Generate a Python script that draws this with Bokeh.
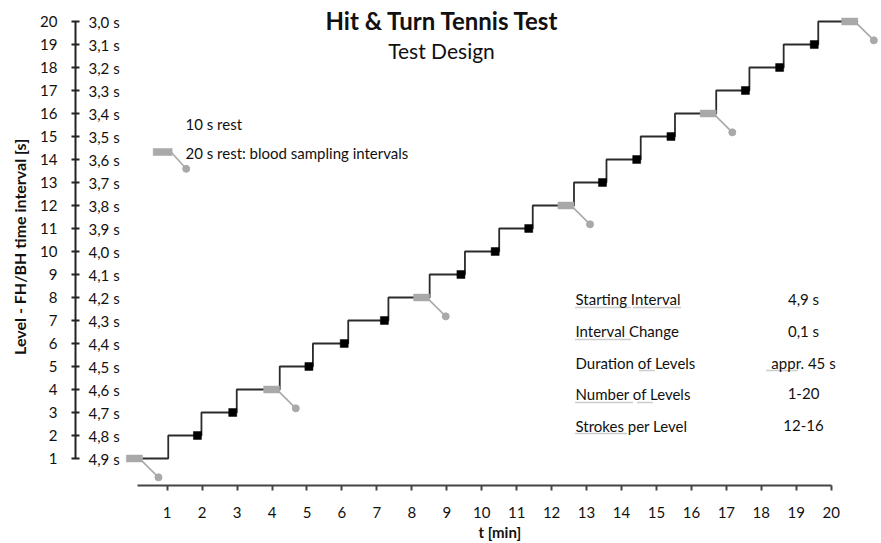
import math
from bokeh.plotting import figure
from bokeh.models import Range1d, FixedTicker, Label, Title
from bokeh.embed import file_html
from bokeh.resources import INLINE
from bokeh.core.properties import value

# ---------------- data ----------------
levels = list(range(1, 21))
interval_labels = ["4,9 s", "4,8 s", "4,7 s", "4,6 s", "4,5 s", "4,4 s", "4,3 s",
                   "4,2 s", "4,1 s", "4,0 s", "3,9 s", "3,8 s", "3,7 s", "3,6 s",
                   "3,5 s", "3,4 s", "3,3 s", "3,2 s", "3,1 s", "3,0 s"]
x_ticks = list(range(1, 21))
test_start_min = 0.29
level_end_min = [1.03, 1.98, 2.99, 4.22, 5.17, 6.18, 7.33, 8.51, 9.52, 10.50,
                 11.46, 12.64, 13.57, 14.55, 15.53, 16.71, 17.66, 18.64, 19.63, 20.76]
blood_levels = [1, 4, 8, 12, 16, 20]
blood_rest_end_min = [0.29, 4.22, 8.51, 12.64, 16.71, 20.76]
table_names = ["Starting Interval", "Interval Change", "Duration of Levels",
               "Number of Levels", "Strokes per Level"]
table_values = ["4,9 s", "0,1 s", "appr. 45 s", "1-20", "12-16"]

# ---------------- layout ----------------
W, H = 881, 543
FL, FR, FT, FB = 75, 881, 0, 485          # frame edges in page pixels
X_START = 1 + (FL - 166.7) / 34.947
X_END = 1 + (FR - 166.7) / 34.947
Y_START = 1 + (458 - FB) / 23.0
Y_END = 1 + (458 - FT) / 23.0
FONT = "Lato"
TXT = "#111111"
GRAY = "#a9a9a9"


def dx(px):  # page px -> data x
    return X_START + (px - FL) / (FR - FL) * (X_END - X_START)


def dy(py):  # page px -> data y
    return Y_START + (FB - py) / (FB - FT) * (Y_END - Y_START)


p = figure(width=W, height=H, output_backend="svg", toolbar_location=None,
           x_range=Range1d(X_START, X_END), y_range=Range1d(Y_START, Y_END),
           min_border_left=FL, min_border_right=W - FR, min_border_top=FT,
           min_border_bottom=H - FB)
p.outline_line_color = None
p.grid.grid_line_color = None
p.background_fill_color = "white"
p.border_fill_color = "white"

# x axis
xa = p.xaxis[0]
xa.ticker = FixedTicker(ticks=x_ticks)
xa.bounds = (0.15, 20)
xa.axis_line_width = 2
xa.axis_line_color = "#444444"
xa.major_tick_in = 0
xa.major_tick_out = 5
xa.major_tick_line_width = 2
xa.major_tick_line_color = "#444444"
xa.minor_tick_line_color = None
xa.major_label_standoff = 16
xa.major_label_text_font = FONT
xa.major_label_text_font_size = "15px"
xa.major_label_text_color = TXT

p.add_layout(Title(text="t [min]", align="left", offset=403, standoff=0,
                   text_font=FONT, text_font_size="15px", text_font_style="bold",
                   text_color=TXT), "below")

# y axis
ya = p.yaxis[0]
ya.ticker = FixedTicker(ticks=levels)
ya.bounds = (1, 20)
ya.axis_line_width = 2
ya.axis_line_color = "#222222"
ya.major_tick_in = 4
ya.major_tick_out = 4
ya.major_tick_line_width = 2
ya.major_tick_line_color = "#222222"
ya.minor_tick_line_color = None
ya.major_label_standoff = 14
ya.major_label_text_font = FONT
ya.major_label_text_font_size = "15px"
ya.major_label_text_color = TXT
ya.axis_label = "Level  -  FH/BH time interval [s]"
ya.axis_label_text_font = FONT
ya.axis_label_text_font_size = "16px"
ya.axis_label_text_font_style = "bold"
ya.axis_label_text_color = TXT
ya.axis_label_standoff = 8

# interval labels next to the y axis
p.text(x=[dx(88)] * len(levels), y=levels, text=interval_labels,
       text_font=value(FONT), text_font_size="15px", text_color=TXT,
       text_align="left", text_baseline="middle")

# step line
xs = [test_start_min]
ys = [levels[0]]
for i, lv in enumerate(levels):
    xs.append(level_end_min[i])
    ys.append(lv)
    if i + 1 < len(levels):
        xs.append(level_end_min[i])
        ys.append(levels[i + 1])
p.line(xs, ys, line_color="#2b2b2b", line_width=1.8)

# black squares: 10 s rest at the end of each level without blood sampling
sq_x = [level_end_min[i] for i, lv in enumerate(levels) if lv not in blood_levels]
sq_y = [lv for lv in levels if lv not in blood_levels]
SQ_W, SQ_H = 0.23, 0.17
p.quad(left=[x - SQ_W for x in sq_x], right=sq_x,
       bottom=[y - SQ_H for y in sq_y], top=[y + SQ_H for y in sq_y],
       fill_color="black", line_color="black", line_width=0.5)

# gray rests: 20 s rest with blood sampling
GR_W, GR_H = 0.46, 0.15
CX, CY = 0.46, 0.82
p.segment(x0=[x - 0.03 for x in blood_rest_end_min], y0=[y - 0.08 for y in blood_levels],
          x1=[x + CX for x in blood_rest_end_min], y1=[y - CY for y in blood_levels],
          line_color=GRAY, line_width=1.6)
p.quad(left=[x - GR_W for x in blood_rest_end_min], right=blood_rest_end_min,
       bottom=[y - GR_H for y in blood_levels], top=[y + GR_H for y in blood_levels],
       fill_color=GRAY, line_color=GRAY, line_width=0.5)
p.scatter(x=[x + CX for x in blood_rest_end_min], y=[y - CY for y in blood_levels],
          size=7, marker="circle", fill_color=GRAY, line_color=GRAY)

# legend (drawn)
p.segment(x0=[dx(171)], y0=[dy(152)], x1=[dx(185.7)], y1=[dy(168.3)],
          line_color=GRAY, line_width=1.6)
p.quad(left=[dx(152.7)], right=[dx(171.7)], bottom=[dy(155)], top=[dy(148)],
       fill_color=GRAY, line_color=GRAY, line_width=0.5)
p.scatter(x=[dx(185.7)], y=[dy(168.3)], size=7, marker="circle",
          fill_color=GRAY, line_color=GRAY)


def lab(text, px, py, size="15px", align="left", bold=False):
    p.add_layout(Label(x=dx(px), y=dy(py), text=text, text_font=FONT,
                       text_font_size=size, text_color=TXT, text_align=align,
                       text_baseline="middle",
                       text_font_style="bold" if bold else "normal"))


lab("10 s rest", 185, 123, "15px")
lab("20 s rest: blood sampling intervals", 185, 152, "15px")

# titles
lab("Hit & Turn Tennis Test", 442, 20, "24px", "center", True)
lab("Test Design", 441, 50, "21px", "center")

# table
row_y = [298, 330, 362, 393, 425]
for name, val, ry in zip(table_names, table_values, row_y):
    lab(name, 575, ry, "15px")
    lab(val, 803, ry, "15px", "center")

# spell-check style underlines under some table words (page px spans)
squiggle_spans = [(575, 630, 307), (633, 681, 307), (575, 630, 339),
                  (639, 654, 370), (766, 798, 370), (575, 632, 402),
                  (637, 652, 402), (575, 627, 433)]
p.multi_line(xs=[[dx(a), dx(b)] for a, b, _ in squiggle_spans],
             ys=[[dy(c), dy(c)] for _, _, c in squiggle_spans],
             line_color="#9a9a9a", line_width=1.3, line_dash="1 1")

open("out.html", "w").write(file_html(p, INLINE))
